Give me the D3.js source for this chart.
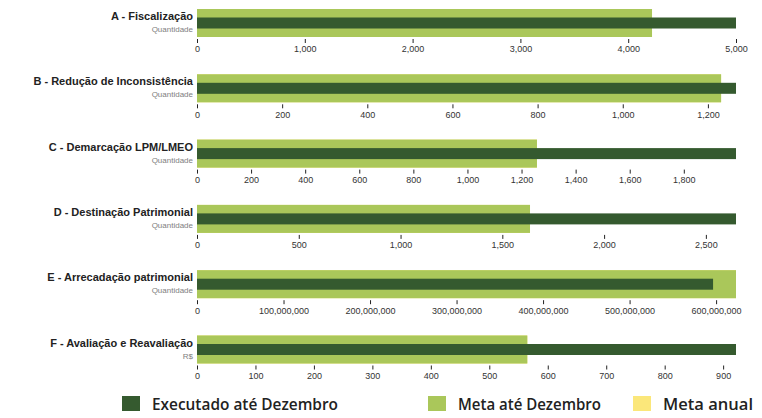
<!DOCTYPE html>
<html>
<head>
<meta charset="utf-8">
<script src="https://cdn.jsdelivr.net/npm/d3@7"></script>
<style>
  body { margin: 0; background: #fff; }
  svg { display: block; }
</style>
</head>
<body>
<svg id="chart"></svg>
<script>
// values
const categories = [
  "A - Fiscalização",
  "B - Redução de Inconsistência",
  "C - Demarcação LPM/LMEO",
  "D - Destinação Patrimonial",
  "E - Arrecadação patrimonial",
  "F - Avaliação e Reavaliação"
];
const subtitles = ["Quantidade", "Quantidade", "Quantidade", "Quantidade", "Quantidade", "R$"];
const executado = [5000, 1266, 1993, 2648, 596500000, 922];
const metaDezembro = [4221, 1231, 1257, 1636, 623000000, 565];
const metaAnual = [4221, 1231, 1257, 1636, 623000000, 565];
const tickSteps = [1000, 200, 200, 500, 100000000, 100];
const legendLabels = ["Executado até Dezembro", "Meta até Dezembro", "Meta anual"];

const width = 762;
const height = 418;
const colors = { exec: "#355a2f", meta: "#aac75a", anual: "#fbe77a" };

const x0 = 197, x1 = 736;
const top0 = 9, step = 65.3;
const barH = 28, innerH = 11;

const svg = d3.select("#chart")
  .attr("width", width)
  .attr("height", height);

categories.forEach((cat, i) => {
  const maxV = Math.max(executado[i], metaDezembro[i], metaAnual[i]);
  const x = d3.scaleLinear().domain([0, maxV]).range([x0, x1]);
  const top = top0 + i * step;
  const g = svg.append("g");

  // ranges (largest first), then the measure
  g.append("rect")
    .attr("x", x(0)).attr("y", top)
    .attr("width", x(metaAnual[i]) - x(0)).attr("height", barH)
    .attr("fill", colors.anual);
  g.append("rect")
    .attr("x", x(0)).attr("y", top)
    .attr("width", x(metaDezembro[i]) - x(0)).attr("height", barH)
    .attr("fill", colors.meta);
  g.append("rect")
    .attr("x", x(0)).attr("y", top + (barH - innerH) / 2)
    .attr("width", x(executado[i]) - x(0)).attr("height", innerH)
    .attr("fill", colors.exec);

  // titles
  g.append("text")
    .attr("x", 193).attr("y", top + 11)
    .attr("text-anchor", "end")
    .style("font", "bold 11px 'Liberation Sans', Arial, sans-serif")
    .style("fill", "#222")
    .text(cat);
  g.append("text")
    .attr("x", 193).attr("y", top + 23)
    .attr("text-anchor", "end")
    .style("font", "8px 'Liberation Sans', Arial, sans-serif")
    .style("fill", "#808080")
    .text(subtitles[i]);

  // axis
  const ticks = d3.range(0, maxV + 1, tickSteps[i]);
  const axis = g.append("g")
    .attr("transform", `translate(0,${top + barH + 2})`)
    .call(d3.axisBottom(x).tickValues(ticks).tickSize(4).tickFormat(d3.format(",")));
  axis.select(".domain").remove();
  axis.selectAll("line").attr("stroke", "#222");
  axis.selectAll("text")
    .style("font", "9px 'Liberation Sans', Arial, sans-serif")
    .style("fill", "#333");
});

// legend
const legendX = [122, 428, 633];
const legendW = [186, 143, 90];
const legendColors = [colors.exec, colors.meta, colors.anual];
const legend = svg.append("g");
legendLabels.forEach((lbl, i) => {
  legend.append("rect")
    .attr("x", legendX[i]).attr("y", 396)
    .attr("width", 18).attr("height", 15)
    .attr("fill", legendColors[i]);
  legend.append("text")
    .attr("x", legendX[i] + 30).attr("y", 410)
    .attr("textLength", legendW[i])
    .attr("lengthAdjust", "spacingAndGlyphs")
    .style("font", "600 15.5px 'Open Sans', sans-serif")
    .style("fill", "#222")
    .text(lbl);
});
</script>
</body>
</html>
